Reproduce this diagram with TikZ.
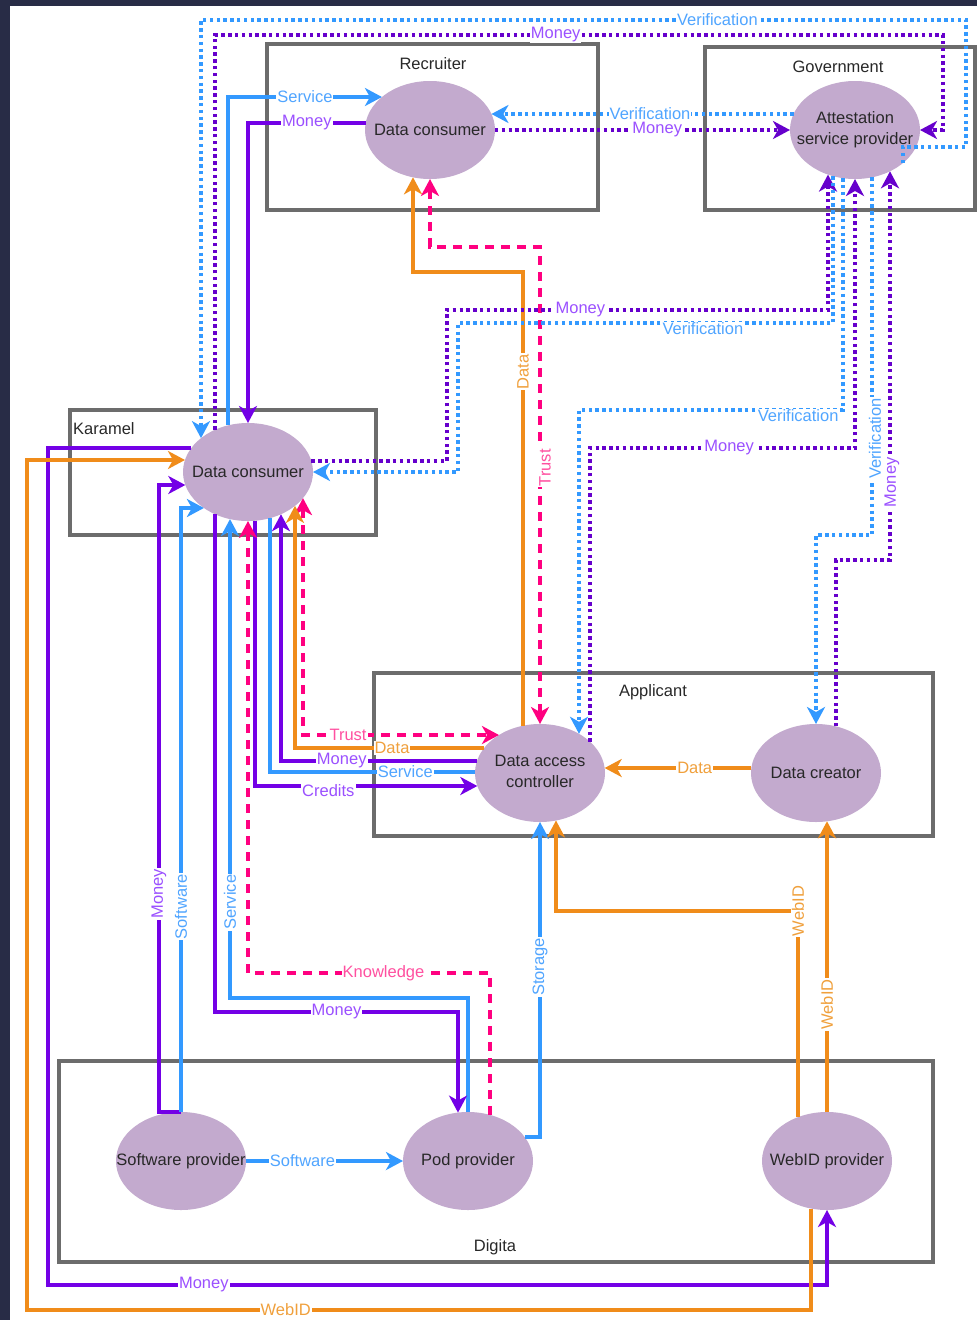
\documentclass[tikz,border=0pt]{standalone}
\usepackage{fontspec}
\setmainfont{Liberation Sans}
\usetikzlibrary{arrows.meta,calc,shapes.geometric}
\definecolor{navy}{RGB}{40,44,70}
\definecolor{lav}{RGB}{195,170,206}
\definecolor{boxc}{RGB}{108,108,108}
\definecolor{cblue}{RGB}{51,153,255}
\definecolor{tblue}{RGB}{80,165,255}
\definecolor{cpur}{RGB}{115,0,230}
\definecolor{cpurd}{RGB}{102,0,204}
\definecolor{tpur}{RGB}{155,80,255}
\definecolor{corg}{RGB}{240,140,26}
\definecolor{torg}{RGB}{240,160,60}
\definecolor{cpink}{RGB}{255,0,128}
\definecolor{tpink}{RGB}{255,80,160}
\definecolor{tdark}{RGB}{40,40,40}
\def\EA{65}\def\EB{49}
\newcommand\vpt[4]{\coordinate (#1) at ($(#2)+(#3,{#4*\EB*sqrt(1-((#3)/\EA)^2)})$);}
\newcommand\hpt[4]{\coordinate (#1) at ($(#2)+({#4*\EA*sqrt(1-((#3)/\EB)^2)},#3)$);}
\begin{document}
\begin{tikzpicture}[x=1pt,y=-1pt,
  fnt/.style={font=\fontsize{16.5}{21}\selectfont},
  grp/.style={draw=boxc,line width=3.2pt},
  glab/.style={fnt,text=tdark,inner sep=0pt},
  ell/.style={ellipse,fill=lav,draw=none,minimum width=130pt,minimum height=98pt,inner sep=0pt,outer sep=0pt,fnt,text=tdark},
  sb/.style={draw=cblue,line width=3.4pt},
  sp/.style={draw=cpur,line width=3.4pt},
  so/.style={draw=corg,line width=3.4pt},
  db/.style={draw=cblue,line width=3.4pt,dash pattern=on 3.4pt off 3.4pt},
  dp/.style={draw=cpurd,line width=3.4pt,dash pattern=on 3.4pt off 3.4pt},
  dk/.style={draw=cpink,line width=3.4pt,dash pattern=on 9pt off 7pt},
  arr/.style={-{Stealth[length=17pt,width=18pt,inset=5pt]}},
  arr2/.style={{Stealth[length=17pt,width=18pt,inset=5pt]}-{Stealth[length=17pt,width=18pt,inset=5pt]}},
  lbl/.style={fill=white,inner sep=1pt,fnt},
  lb/.style={lbl,text=tblue},
  lp/.style={lbl,text=tpur},
  lo/.style={lbl,text=torg},
  lk/.style={lbl,text=tpink},
  rot/.style={rotate=90}]
\fill[navy] (0,0) rectangle (977,1320);
\fill[white] (10,6) rectangle (977,1320);
\useasboundingbox (0,0) rectangle (977,1320);
% groups
\draw[grp] (267,44) rectangle (598,210);
\node[glab] (gRec) at (433,64) {Recruiter};
\draw[grp] (705,47) rectangle (975,210);
\node[glab] (gGov) at (838,67) {Government};
\draw[grp] (70,410) rectangle (376,535);
\node[glab,anchor=west] (gKar) at (73,429) {Karamel};
\draw[grp] (374,673) rectangle (933,836);
\node[glab] (gApp) at (653,692) {Applicant};
\draw[grp] (59,1061) rectangle (933,1262);
\node[glab] (gDig) at (495,1247) {Digita};
% actors
\node[ell] (dcR) at (430,130) {\makebox[0pt]{Data consumer}};
\node[ell] (asp) at (855,130) {\makebox[0pt]{\begin{tabular}{@{}c@{}}Attestation\\service provider\end{tabular}}};
\node[ell] (dcK) at (248,472) {\makebox[0pt]{Data consumer}};
\node[ell] (dac) at (540,773) {\makebox[0pt]{\begin{tabular}{@{}c@{}}Data access\\controller\end{tabular}}};
\node[ell] (dcr) at (816,773) {\makebox[0pt]{Data creator}};
\node[ell] (swp) at (181,1161) {\makebox[0pt]{Software provider}};
\node[ell] (pod) at (468,1161) {\makebox[0pt]{Pod provider}};
\node[ell] (wid) at (827,1161) {\makebox[0pt]{WebID provider}};
% border points
\vpt{kA}{dcK}{-47}{-1}
\vpt{kB}{dcK}{-33}{-1}
\vpt{kC}{dcK}{-20}{-1}
\vpt{kD}{dcK}{0}{-1}
\vpt{kY}{dcK}{-33}{1}
\vpt{kX}{dcK}{-18}{1}
\vpt{kZ}{dcK}{0}{1}
\vpt{kS}{dcK}{7}{1}
\vpt{kR}{dcK}{22}{1}
\vpt{kQ}{dcK}{33}{1}
\vpt{kP}{dcK}{47}{1}
\vpt{kO}{dcK}{55}{1}
\hpt{kT}{dcK}{-24}{-1}
\hpt{kU}{dcK}{-12}{-1}
\hpt{kV}{dcK}{13}{-1}
\hpt{kW}{dcK}{36}{-1}
\hpt{kI}{dcK}{-11}{1}
\hpt{kJ}{dcK}{0}{1}
\hpt{rC}{dcR}{-33}{-1}
\hpt{rD}{dcR}{-7}{-1}
\hpt{rE}{dcR}{-16}{1}
\hpt{rF}{dcR}{0}{1}
\vpt{rG}{dcR}{-17}{1}
\vpt{rH}{dcR}{0}{1}
\hpt{aE}{asp}{-16}{-1}
\hpt{aF}{asp}{0}{-1}
\hpt{aB}{asp}{0}{1}
\vpt{aI}{asp}{-27}{1}
\vpt{aJ}{asp}{-22}{1}
\vpt{aL}{asp}{-12}{1}
\vpt{aK}{asp}{0}{1}
\vpt{aM}{asp}{17}{1}
\vpt{aN}{asp}{35}{1}
\coordinate (aA) at ($(asp)+(48,33)$);
\vpt{dG}{dac}{-17}{-1}
\vpt{dH}{dac}{0}{-1}
\vpt{dL}{dac}{39}{-1}
\vpt{dK}{dac}{50}{-1}
\hpt{dO}{dac}{-38}{-1}
\hpt{dP}{dac}{-25}{-1}
\hpt{dQ}{dac}{-12}{-1}
\hpt{dR}{dac}{-1}{-1}
\hpt{dS}{dac}{13}{-1}
\hpt{dD}{dac}{-5}{1}
\vpt{dA}{dac}{0}{1}
\vpt{dB}{dac}{16}{1}
\vpt{cM}{dcr}{0}{-1}
\vpt{cN}{dcr}{20}{-1}
\hpt{cD}{dcr}{-5}{-1}
\vpt{cC}{dcr}{11}{1}
\vpt{pY}{pod}{-10}{-1}
\vpt{pZ}{pod}{22}{-1}
\hpt{pA}{pod}{-24}{1}
\vpt{wB}{wid}{-29}{-1}
\vpt{wC}{wid}{0}{-1}
\vpt{wT}{wid}{0}{1}
\vpt{wU}{wid}{-16}{1}
% connectors
\draw[db,arr] (aA) -- (903,147) -- (966,147) -- (966,20) -- node[lb,pos=.325]{Verification} (201,20) -- (kA);
\draw[dp,arr] (kB) -- (215,35) -- node[lp,pos=.468]{Money} (943,35) |- (aB);
\draw[sb,arr] (kC) |- node[lb,pos=.75]{Service} (rC);
\draw[sp,arr] (rD) -| node[lp,pos=.25]{Money} (kD);
\draw[db,arr] (aE) -- node[lb,pos=.475]{Verification} (rE);
\draw[dp,arr] (rF) -- node[lp,pos=.55]{Money} (aF);
\draw[so,arr] (dG) -- node[lo,rot,pos=.78]{Data} (523,272) -| (rG);
\draw[dk,arr2] (rH) -- (430,247) -- (540,247) -- node[lk,xshift=5pt,rot,pos=.463]{Trust} (dH);
\draw[dp,arr] (kI) -| (447,310) -- node[lp,pos=.35]{Money} (828,310) -- (aI);
\draw[db,arr] (aJ) -- (833,323) -- node[lb,yshift=-6pt,pos=.347]{Verification} (458,323) |- (kJ);
\draw[dp,arr] (dK) -- (590,448) -- node[lp,pos=.525]{Money} (855,448) -- (aK);
\draw[db,arr] (aL) -- (843,410) -- node[lb,yshift=-6pt,pos=.17]{Verification} (579,410) -- (dL);
\draw[db,arr] (aM) -- node[lb,xshift=3pt,rot,pos=.73]{Verification} (872,535) -- (816,535) -- (cM);
\draw[dp,arr] (cN) -- (836,560) -- (890,560) -- node[lp,xshift=2pt,rot,pos=.2]{Money} (aN);
\draw[dk,arr2] (kO) -- (303,735) -- node[lk,pos=.23]{Trust} (dO);
\draw[so,arr] (dP) -- node[lo,pos=.487]{Data} (295,748) -- (kP);
\draw[sp,arr] (dQ) -- node[lp,pos=.69]{Money} (281,761) -- (kQ);
\draw[sb] (dR) -- node[lb,pos=.34]{Service} (270,772) -- (kR);
\draw[sp,arr] (kS) -- (255,786) -- node[lp,yshift=-5pt,pos=.33]{Credits} (dS);
\draw[sp,arr] (kT) -- (48,448) -- (48,1285) -- node[lp,pos=.2]{Money} (827,1285) -- (wT);
\draw[so,arr] (wU) -- (811,1310) -- node[lo,pos=.67]{WebID} (27,1310) -- (27,460) -- (kU);
\draw[sp,arr] (swp.north) -- (159,1112) -- node[lp,rot,pos=.348]{Money} (159,485) -- (kV);
\draw[sb,arr] (swp.north) -- node[lb,rot,pos=.34]{Software} (181,508) -- (kW);
\draw[sb,arr] (pod.north) -- (468,998) -- (230,998) -- node[lb,rot,pos=.2]{Service} (kX);
\draw[sp,arr] (kY) -- (215,1012) -- node[lp]{Money} (458,1012) -- (pY);
\draw[dk,arr] (pZ) -- (490,973) -- node[lk,pos=.44]{Knowledge} (248,973) -- (kZ);
\draw[sb,arr] (pA) -- (540,1137) -- node[lb,rot,pos=.54]{Storage} (dA);
\draw[so,arr] (wB) -- (798,911) node[lo,rot]{WebID} -- (556,911) -- (dB);
\draw[so,arr] (wC) -- node[lo,rot,pos=.37]{WebID} (cC);
\draw[so,arr] (cD) -- node[lo,pos=.386]{Data} (dD);
\draw[sb,arr] (swp.east) -- node[lb,pos=.36]{Software} (pod.west);
\end{tikzpicture}
\end{document}
